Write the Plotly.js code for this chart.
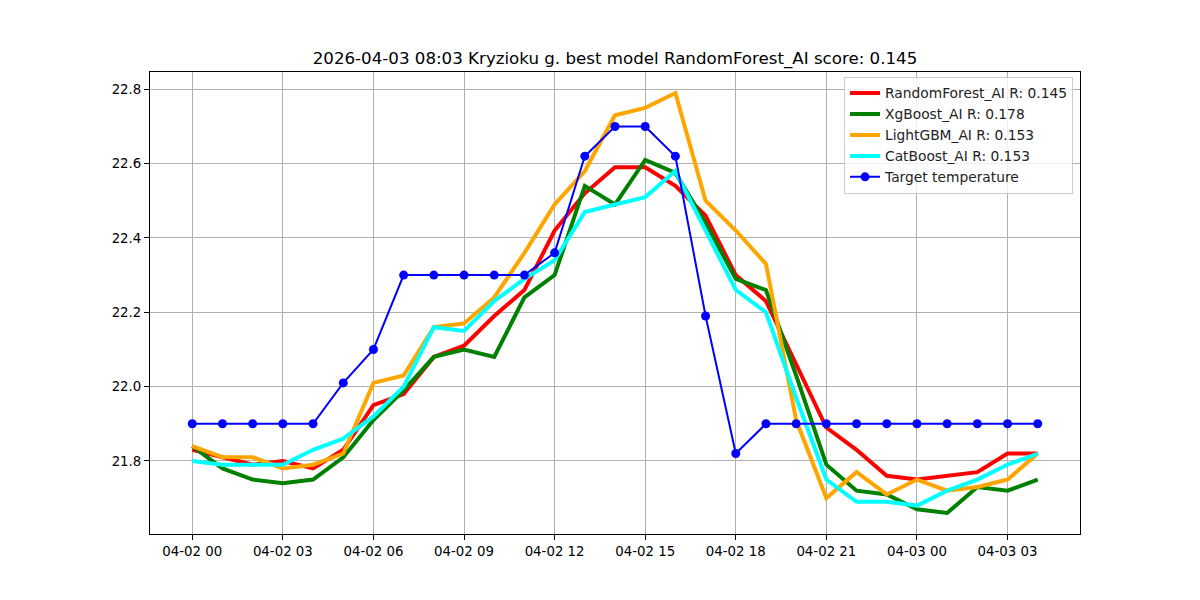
<!DOCTYPE html>
<html>
<head>
<meta charset="utf-8">
<script src="https://cdn.plot.ly/plotly-3.0.1.min.js"></script>
<style>html,body{margin:0;padding:0;background:#fff;}#chart{width:1200px;height:600px;}</style>
</head>
<body>
<div id="chart"></div>
<script>
const times = [
  "2026-04-02 00:00","2026-04-02 01:00","2026-04-02 02:00","2026-04-02 03:00","2026-04-02 04:00",
  "2026-04-02 05:00","2026-04-02 06:00","2026-04-02 07:00","2026-04-02 08:00","2026-04-02 09:00",
  "2026-04-02 10:00","2026-04-02 11:00","2026-04-02 12:00","2026-04-02 13:00","2026-04-02 14:00",
  "2026-04-02 15:00","2026-04-02 16:00","2026-04-02 17:00","2026-04-02 18:00","2026-04-02 19:00",
  "2026-04-02 20:00","2026-04-02 21:00","2026-04-02 22:00","2026-04-02 23:00","2026-04-03 00:00",
  "2026-04-03 01:00","2026-04-03 02:00","2026-04-03 03:00","2026-04-03 04:00"
];
const randomForest = [21.83,21.81,21.79,21.80,21.78,21.83,21.95,21.98,22.08,22.11,22.19,22.26,22.42,22.52,22.59,22.59,22.54,22.46,22.30,22.23,22.06,21.89,21.83,21.76,21.75,21.76,21.77,21.82,21.82];
const xgBoost = [21.84,21.78,21.75,21.74,21.75,21.81,21.91,21.99,22.08,22.10,22.08,22.24,22.30,22.54,22.49,22.61,22.575,22.44,22.29,22.26,22.03,21.79,21.72,21.71,21.67,21.66,21.73,21.72,21.75];
const lightGBM = [21.84,21.81,21.81,21.78,21.79,21.82,22.01,22.03,22.16,22.17,22.24,22.36,22.49,22.58,22.73,22.75,22.79,22.50,22.42,22.33,21.91,21.70,21.77,21.71,21.75,21.72,21.73,21.75,21.82];
const catBoost = [21.80,21.79,21.79,21.79,21.83,21.86,21.92,22.00,22.16,22.15,22.23,22.29,22.34,22.47,22.49,22.51,22.58,22.42,22.26,22.20,21.97,21.75,21.69,21.69,21.68,21.72,21.75,21.79,21.82];
const target = [21.9,21.9,21.9,21.9,21.9,22.01,22.1,22.3,22.3,22.3,22.3,22.3,22.36,22.62,22.7,22.7,22.62,22.19,21.82,21.9,21.9,21.9,21.9,21.9,21.9,21.9,21.9,21.9,21.9];
const seriesNames = ["RandomForest_AI R: 0.145","XgBoost_AI R: 0.178","LightGBM_AI R: 0.153","CatBoost_AI R: 0.153","Target temperature"];
const titleText = "2026-04-03 08:03 Kryzioku g. best model RandomForest_AI score: 0.145";
const yTicks = [21.8,22.0,22.2,22.4,22.6,22.8];

const font = "DejaVu Sans, sans-serif";
const modelSeries = [randomForest, xgBoost, lightGBM, catBoost];
const modelColors = ["#ff0000","#008000","#ffa500","#00ffff"];
const traces = modelSeries.map((s,i)=>({
  x: times, y: s, type:'scatter', mode:'lines', name: seriesNames[i],
  line:{color:modelColors[i], width:4}
}));
traces.push({
  x: times, y: target, type:'scatter', mode:'lines+markers', name: seriesNames[4],
  line:{color:'#0000ff', width:2}, marker:{color:'#0000ff', size:9}
});

const layout = {
  width:1200, height:600,
  margin:{l:150, r:120, t:72, b:66},
  paper_bgcolor:'#fff', plot_bgcolor:'#fff',
  font:{family:font, size:13.33, color:'#000'},
  title:{text:titleText, font:{family:font, size:16.67, color:'#000'}, x:0.5125, xref:'container', xanchor:'center', y:1-58/600, yref:'container', yanchor:'middle'},
  xaxis:{
    type:'date',
    range:['2026-04-01 22:36','2026-04-03 05:24'],
    tick0:'2026-04-02 00:00', dtick:10800000, tickformat:'%m-%d %H',
    showgrid:true, gridcolor:'#b0b0b0', gridwidth:1,
    showline:true, linecolor:'#000', linewidth:1, mirror:true,
    ticks:'outside', ticklen:5, tickcolor:'#000', zeroline:false,
    tickfont:{family:font, size:13.33, color:'#000'}
  },
  yaxis:{
    range:[21.6035, 22.8465],
    tickvals:yTicks, tickformat:'.1f',
    showgrid:true, gridcolor:'#b0b0b0', gridwidth:1,
    showline:true, linecolor:'#000', linewidth:1, mirror:true,
    ticks:'outside', ticklen:5, tickcolor:'#000', zeroline:false,
    tickfont:{family:font, size:13.33, color:'#000'}
  },
  showlegend:true,
  legend:{
    x:0.9925, xanchor:'right', y:0.99, yanchor:'top',
    bgcolor:'rgba(255,255,255,0.8)', bordercolor:'#cccccc', borderwidth:1,
    font:{family:font, size:13.8, color:'#222'}
  }
};
Plotly.newPlot('chart', traces, layout, {staticPlot:true});
</script>
</body>
</html>
